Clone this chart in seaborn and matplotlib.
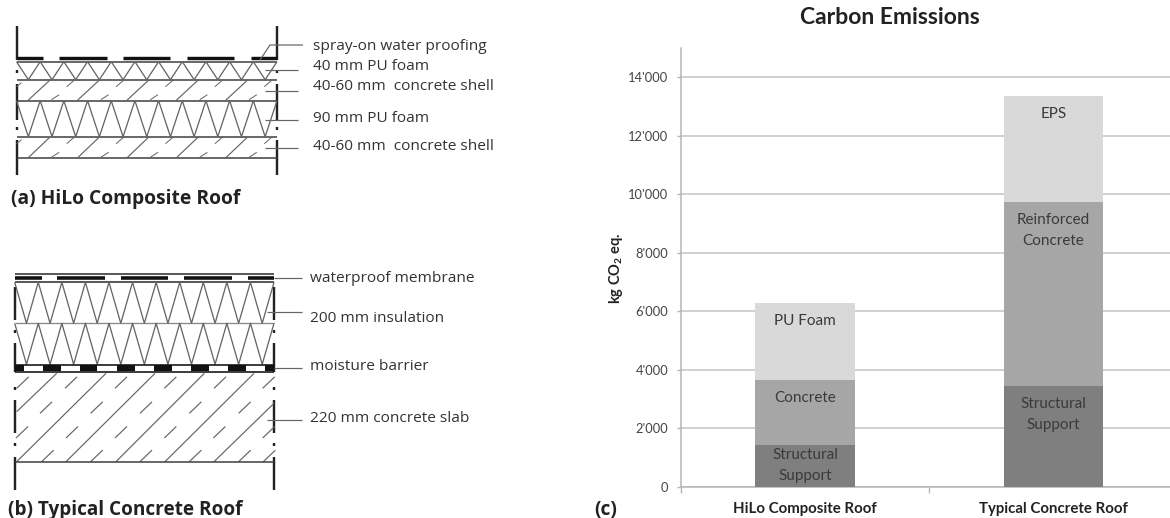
import numpy as np
import seaborn as sns
from matplotlib import pyplot as plt
from matplotlib.ticker import FuncFormatter

# Chart data
roofs = ["HiLo Composite Roof", "Typical Concrete Roof"]
structural = [1424, 3459]
concrete = [2230, 6296]
insulation = [2640, 3620]
yticks = [0, 2000, 4000, 6000, 8000, 10000, 12000, 14000]

layer_colors = ["#7f7f7f", "#a6a6a6", "#d9d9d9"]
hilo_labels = ["Structural\nSupport", "Concrete", "PU Foam"]
typical_labels = ["Structural\nSupport", "Reinforced\nConcrete", "EPS"]

# Diagram text
labels_a = ["spray-on water proofing", "40 mm PU foam", "40-60 mm  concrete shell",
            "90 mm PU foam", "40-60 mm  concrete shell"]
labels_b = ["waterproof membrane", "200 mm insulation", "moisture barrier", "220 mm concrete slab"]

sns.set_theme(style="ticks")
plt.rcParams["font.family"] = ["Lato", "DejaVu Sans"]
plt.rcParams["mathtext.fontset"] = "custom"
plt.rcParams["mathtext.bf"] = "Lato:bold"
plt.rcParams["mathtext.rm"] = "Lato:bold"

fig = plt.figure(figsize=(11.7, 5.18), dpi=100)

# Left side is drawn in pixel coordinates
bg = fig.add_axes([0, 0, 1, 1])
bg.set_xlim(0, 1170)
bg.set_ylim(518, 0)
bg.axis("off")

DARK = "#3a3a3a"
MID = "#666666"


def line(xs, ys, color=DARK, lw=1.2):
    bg.plot(xs, ys, color=color, lw=lw * 0.72, solid_capstyle="butt")


def hline(y, x0, x1, color=DARK, lw=1.5):
    line([x0, x1], [y, y], color, lw)


def zigzag(x0, x1, y_top, y_bot):
    xs = np.linspace(x0, x1, 23)
    ys = [y_top if i % 2 == 0 else y_bot for i in range(len(xs))]
    line(xs, ys, MID, 1.3)


def walls(x, segments, dots):
    for y0, y1 in segments:
        line([x, x], [y0, y1], "#222222", 2.4)
    for y in dots:
        line([x, x], [y - 1.5, y + 1.5], "#222222", 2.4)


def shell_hatch(x0, x1, y_top, y_bot):
    for k in range(5):
        off = x0 + 11.7 + k * 49.4
        line([off, off + 21.6], [y_bot - 0.5, y_top + 0.5], MID, 1.2)
        line([off + 23.3, off + 31], [y_bot - 1, y_bot - 6], MID, 1)
        line([off + 38.5, off + 46], [y_top + 7, y_top + 0.5], MID, 1)
    line([x0, x0 + 5], [y_top + 7, y_top + 3], MID, 1)


# (a) HiLo composite roof
L, R = 16.5, 277
for x in (L, R):
    walls(x, [(26, 60), (84, 120), (140, 175)], [71.7, 128])
for x0, x1 in [(16.5, 43), (59, 107), (123, 170), (187, 234), (251, 277)]:
    hline(58, x0, x1, "#111111", 3.4)
for y in (61.7, 79.7, 100.7, 136.7, 158.3):
    hline(y, L, R)
zigzag(L, R, 61.7, 79.7)
zigzag(L, R, 100.7, 136.7)
shell_hatch(L, R, 79.7, 100.7)
shell_hatch(L, R, 136.7, 158.3)

line([260, 270, 303], [60, 45, 45], MID, 1.2)
for y in (70, 91, 120, 148):
    hline(y, 265, 298, MID, 1.2)
for lab, y in zip(labels_a, [46, 66, 87, 118, 146]):
    bg.text(313, y, lab, family="Open Sans", fontsize=11.1, color="#333333", va="center")
bg.text(11, 199, "(a) HiLo Composite Roof", family="Open Sans", fontweight="bold", fontsize=13.9,
        color="#222222", va="center")

# (b) Typical concrete roof
L, R = 14.7, 274
for x in (L, R):
    walls(x, [(287, 320), (343, 372), (400, 433), (457, 490)], [331.7, 388, 444])
for x0, x1 in [(14.7, 41.7), (57.3, 104.7), (120.7, 168.3), (184.3, 231.7), (248.3, 274)]:
    hline(277.7, x0, x1, "#111111", 3.6)
for y in (274, 282.3):
    hline(y, L, R, "#333333", 1.6)
hline(323.3, L, R, "#888888", 1.3)
zigzag(L, R, 282.3, 323.3)
zigzag(L, R, 323.3, 364.3)

# moisture barrier
hline(364.8, L, R, "#111111", 1.6)
hline(371.5, L, R, "#111111", 1.6)
for x0, x1 in [(14.7, 24), (42.7, 60.7), (80, 97.3), (116.7, 135), (154, 171.7), (190.7, 209),
               (227.7, 245.7), (265, 274)]:
    hline(368, x0, x1, "#111111", 6)

# slab hatching, long strokes then short dashes
long_strokes = [((50, 470), (170, 355)), ((50, 620), (318, 355)), ((198, 620), (465, 355)),
                ((348, 620), (613, 355)), ((495, 620), (762, 355)), ((642, 620), (822, 445))]
for (xa, ya), (xb, yb) in long_strokes:
    line([xa / 3, xb / 3], [255 + ya / 3, 255 + yb / 3], MID, 1.2)
short_rows = [(400, [50, 195, 345, 493, 642, 788]), (475, [120, 272, 420, 568, 716]),
              (549, [48, 198, 345, 493, 640, 788]), (620, [125, 272, 420, 568, 716, 790])]
for ya, xs in short_rows:
    for xa in xs:
        line([xa / 3, xa / 3 + 12], [255 + ya / 3, 255 + ya / 3 - 11.5], MID, 1.2)
hline(462.3, L, R)

hline(278, 274, 302, MID, 1.2)
hline(311.7, 267, 302, MID, 1.2)
hline(367.7, 274, 302, MID, 1.2)
hline(420, 267, 302, MID, 1.2)
for lab, y in zip(labels_b, [278, 319, 366, 418]):
    bg.text(310, y, lab, family="Open Sans", fontsize=11.1, color="#333333", va="center")
bg.text(8, 510, "(b) Typical Concrete Roof", family="Open Sans", fontweight="bold", fontsize=13.7,
        color="#222222", va="center")
bg.text(594, 510, "(c)", family="Open Sans", fontweight="bold", fontsize=13.8, color="#222222", va="center")

# (c) stacked bars
ax = fig.add_axes([680.6 / 1170, 31 / 518, 1 - 680.6 / 1170, 439 / 518])
ax.patch.set_alpha(0)
bottoms = np.zeros(2)
tops = []
for values, color in zip([structural, concrete, insulation], layer_colors):
    sns.barplot(x=roofs, y=values, bottom=bottoms, color=color, saturation=1, width=0.4,
                errorbar=None, ax=ax, zorder=3, linewidth=0)
    bottoms = bottoms + np.array(values)
    tops.append(bottoms.copy())

ax.set_xlim(-0.5, 1.468)
ax.set_ylim(0, 15000)
ax.set_yticks(yticks)
ax.yaxis.set_major_formatter(FuncFormatter(lambda v, _: f"{int(v):,}".replace(",", "'")))
ax.yaxis.grid(True, color="#c8c8c8", lw=1.2, zorder=0)
ax.set_axisbelow(True)
sns.despine(ax=ax, right=True, top=True)
for side in ("left", "bottom"):
    ax.spines[side].set_color("#b5b5b5")
    ax.spines[side].set_linewidth(1.1)
ax.tick_params(axis="y", length=3, width=1, color="#b5b5b5", labelsize=9.3, labelcolor="#444444", pad=6)
ax.tick_params(axis="x", which="major", length=0, pad=11, labelsize=10.8, labelcolor="#222222")
ax.set_xticks([-0.5, 0.5], minor=True)
ax.tick_params(axis="x", which="minor", length=4, width=1, color="#b5b5b5")
for tick in ax.get_xticklabels():
    tick.set_fontweight("bold")
ax.set_xlabel("")
ax.set_ylabel(r"kg CO$_{\mathbf{2}}$ eq.", fontweight="bold", fontsize=10.5, color="#222222")
ax.yaxis.set_label_coords(-56 / 489.4, (487 - 268) / 439)

# text inside the bars hangs from the top of each layer
for col, labs in enumerate([hilo_labels, typical_labels]):
    for row, lab in enumerate(labs):
        pad = 3 if (col == 0 and row == 0) else 11
        ax.annotate(lab, (col, tops[row][col]), xytext=(0, -pad * 0.72), textcoords="offset points",
                    ha="center", va="top", fontsize=11, color="#3a3a3a", linespacing=1.64, zorder=5)

fig.text(889.6 / 1170, 1 - 17 / 518, "Carbon Emissions", fontweight="bold", fontsize=16.5,
         color="#222222", ha="center", va="center")

fig.savefig("out.png", dpi=100)
